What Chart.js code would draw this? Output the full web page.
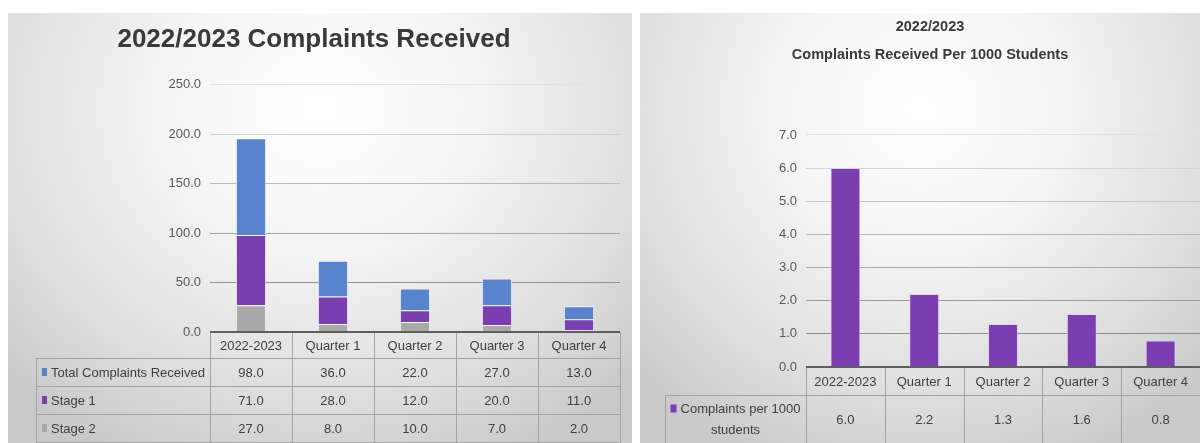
<!DOCTYPE html>
<html>
<head>
<meta charset="utf-8">
<title>Complaints 2022/2023</title>
<script src="https://cdn.jsdelivr.net/npm/chart.js@4.4.0/dist/chart.umd.min.js"></script>
<style>
  body { margin: 0; background: #fff; width: 1200px; height: 443px; overflow: hidden; position: relative; }
  .panel {
    position: absolute; top: 13px; height: 430px;
    background: radial-gradient(ellipse 70% 90% at 50% 22%, #ffffff 0%, #f5f5f5 35%, #dedede 75%, #c9c9c9 100%);
  }
  #p1 { left: 8px; width: 624px; }
  #p2 { left: 640px; width: 560px; }
  canvas { display: block; }
</style>
</head>
<body>
<div class="panel" id="p1"><canvas id="complaints" width="624" height="430"></canvas></div>
<div class="panel" id="p2"><canvas id="per1000" width="560" height="430"></canvas></div>
<script>
const categories = ["2022-2023", "Quarter 1", "Quarter 2", "Quarter 3", "Quarter 4"];
const totalReceived = [98.0, 36.0, 22.0, 27.0, 13.0];
const stage1 = [71.0, 28.0, 12.0, 20.0, 11.0];
const stage2 = [27.0, 8.0, 10.0, 7.0, 2.0];
const per1000 = [6.0, 2.2, 1.3, 1.6, 0.8];

const leftTicks = [0, 50, 100, 150, 200, 250];
const rightTicks = [0, 1, 2, 3, 4, 5, 6, 7];

const BLUE = "#5884cf";
const PURPLE = "#7b3eb1";
const GREY = "#a9a9a9";
const FONT = "'Liberation Sans Narrow', 'Liberation Sans', Arial, sans-serif";

Chart.defaults.font.family = FONT;
Chart.defaults.color = "#595959";

// gridlines fade out towards the top of the plot
function gridShade(t) {
  const v = Math.round(140 + (226 - 140) * Math.max(0, t - 0.14) / 0.86);
  return "rgb(" + v + "," + v + "," + v + ")";
}

// excel style data table under the x axis, columns taken from the x scale
const dataTable = {
  id: "dataTable",
  afterDatasetsDraw(chart, args, o) {
    const { ctx, chartArea: a, scales: { x } } = chart;
    const n = chart.data.labels.length;
    const half = (a.right - a.left) / n / 2;
    const edges = [];
    for (let i = 0; i < n; i++) edges.push(x.getPixelForValue(i) - half);
    edges.push(x.getPixelForValue(n - 1) + half);

    ctx.save();
    ctx.font = o.fontSize + "px " + FONT;
    ctx.fillStyle = "#404040";
    ctx.textBaseline = "middle";
    ctx.strokeStyle = "#a3a3a3";
    ctx.lineWidth = 1;
    const hline = (x0, x1, y) => { ctx.beginPath(); ctx.moveTo(x0, y + 0.5); ctx.lineTo(x1, y + 0.5); ctx.stroke(); };
    const vline = (xx, y0, y1) => { ctx.beginPath(); ctx.moveTo(Math.round(xx) + 0.5, y0); ctx.lineTo(Math.round(xx) + 0.5, y1); ctx.stroke(); };

    // header row
    const top = a.bottom;
    let y = top + o.headerHeight;
    ctx.textAlign = "center";
    chart.data.labels.forEach((lab, i) => ctx.fillText(lab, x.getPixelForValue(i), (top + y) / 2 + 1));
    edges.forEach(e => vline(e, top, y));
    hline(o.labelLeft, a.right, y);

    // series rows
    o.rows.forEach(r => {
      const y0 = y, y1 = y + r.height;
      const cy = (y0 + y1) / 2;
      vline(o.labelLeft, y0, y1);
      edges.forEach(e => vline(e, y0, y1));
      hline(o.labelLeft, a.right, y1);

      const lineH = o.fontSize + 8;
      const firstY = cy - (r.label.length - 1) * lineH / 2;
      r.label.forEach((txt, k) => {
        const ly = firstY + k * lineH;
        if (o.labelAlign === "left") {
          const tx = o.labelLeft + 6;
          if (k === 0) { ctx.fillStyle = r.color; ctx.fillRect(tx, ly - 4, 5, 8); }
          ctx.fillStyle = "#404040";
          ctx.textAlign = "left";
          ctx.fillText(txt, tx + 9, ly + 1);
        } else {
          const mid = (o.labelLeft + a.left) / 2;
          const w = ctx.measureText(txt).width;
          let tx = mid - w / 2;
          if (k === 0) {
            tx += 5;
            ctx.fillStyle = r.color;
            ctx.fillRect(tx - 10, ly - 4, 6, 8);
          }
          ctx.fillStyle = "#404040";
          ctx.textAlign = "left";
          ctx.fillText(txt, tx, ly + 1);
        }
      });
      ctx.textAlign = "center";
      r.values.forEach((v, i) => ctx.fillText(v.toFixed(1), x.getPixelForValue(i), cy + 1));
      y = y1;
    });

    // axis line on top of the table
    ctx.strokeStyle = "#5e5e5e";
    ctx.lineWidth = 2;
    ctx.beginPath(); ctx.moveTo(a.left, top); ctx.lineTo(a.right, top); ctx.stroke();
    ctx.restore();
  }
};

function yScale(ticks, width) {
  const max = ticks[ticks.length - 1];
  return {
    min: ticks[0], max: max,
    afterBuildTicks: s => { s.ticks = ticks.map(v => ({ value: v })); },
    afterFit: s => { s.width = width; },
    border: { display: false },
    grid: { drawTicks: false, lineWidth: 1, color: c => c.tick.value === 0 ? "rgba(0,0,0,0)" : gridShade(c.tick.value / max) },
    ticks: { padding: 9, font: { size: 13 }, color: "#595959", callback: v => v.toFixed(1) }
  };
}

new Chart("complaints", {
  type: "bar",
  data: {
    labels: categories,
    datasets: [
      { label: "Stage 2", data: stage2, backgroundColor: GREY },
      { label: "Stage 1", data: stage1, backgroundColor: PURPLE },
      { label: "Total Complaints Received", data: totalReceived, backgroundColor: BLUE }
    ].map(d => Object.assign(d, { borderColor: "rgba(255,255,255,0.75)", borderWidth: 1, barPercentage: 0.37, categoryPercentage: 1 }))
  },
  options: {
    responsive: false,
    animation: false,
    layout: { padding: { left: 0, right: 12, top: 0, bottom: 111 } },
    scales: {
      x: { stacked: true, display: false },
      y: Object.assign(yScale(leftTicks, 202), { stacked: true })
    },
    plugins: {
      legend: { display: false },
      tooltip: { enabled: false },
      title: {
        display: true,
        text: "2022/2023 Complaints Received",
        color: "#3a3a3a",
        font: { size: 26, weight: "bold", lineHeight: 1.3 },
        padding: { top: 10, bottom: 28 }
      },
      dataTable: {
        labelLeft: 28, headerHeight: 26, fontSize: 13, labelAlign: "left",
        rows: [
          { label: ["Total Complaints Received"], color: BLUE, values: totalReceived, height: 28 },
          { label: ["Stage 1"], color: PURPLE, values: stage1, height: 28 },
          { label: ["Stage 2"], color: GREY, values: stage2, height: 28 }
        ]
      }
    }
  },
  plugins: [dataTable]
});

new Chart("per1000", {
  type: "bar",
  data: {
    labels: categories,
    datasets: [
      { label: "Complaints per 1000 students", data: per1000, backgroundColor: PURPLE,
        borderColor: "rgba(225,205,245,0.8)", borderWidth: 1, barPercentage: 0.38, categoryPercentage: 1 }
    ]
  },
  options: {
    responsive: false,
    animation: false,
    layout: { padding: { left: 20, right: 0, top: 0, bottom: 76 } },
    scales: {
      x: { display: false },
      y: yScale(rightTicks, 146)
    },
    plugins: {
      legend: { display: false },
      tooltip: { enabled: false },
      title: {
        display: true,
        text: ["2022/2023", "Complaints Received Per 1000 Students"],
        color: "#3a3a3a",
        font: { size: 14.5, weight: "bold", lineHeight: 1.93 },
        padding: { top: 0, bottom: 66 }
      },
      dataTable: {
        labelLeft: 25, headerHeight: 28, fontSize: 13, labelAlign: "center",
        rows: [
          { label: ["Complaints per 1000", "students"], color: PURPLE, values: per1000, height: 48 }
        ]
      }
    }
  },
  plugins: [dataTable]
});
</script>
</body>
</html>
